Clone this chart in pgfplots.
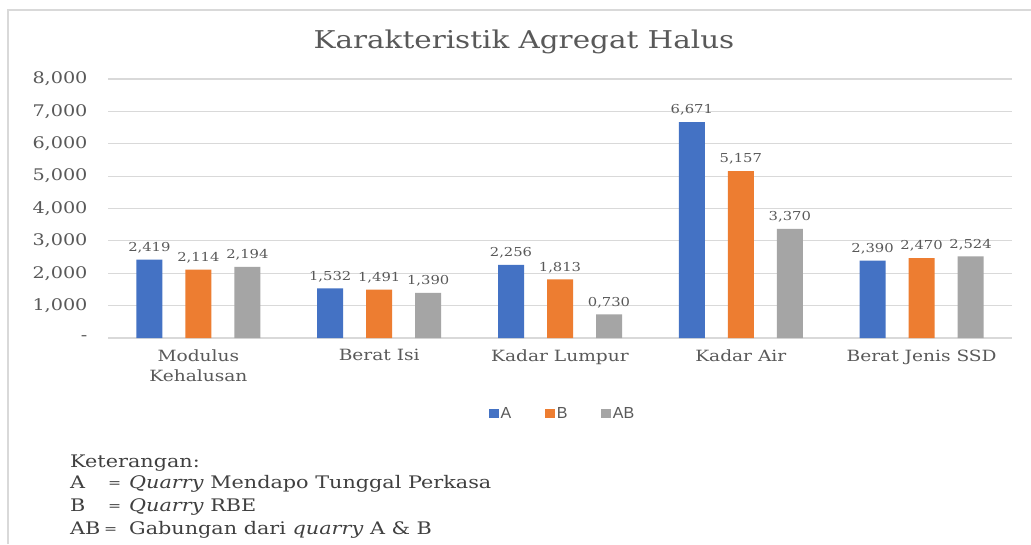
\documentclass[border=0pt]{standalone}
\usepackage{fontspec}
\setmainfont{DejaVu Serif}[FakeStretch=1.2]
\newfontfamily\legendfont{Liberation Sans}
\usepackage{pgfplots}
\pgfplotsset{compat=1.18}
\definecolor{cA}{HTML}{4472C4}
\definecolor{cB}{HTML}{ED7D31}
\definecolor{cAB}{HTML}{A5A5A5}
\definecolor{txt}{HTML}{595959}
\definecolor{annot}{HTML}{404040}
\definecolor{gridc}{HTML}{D9D9D9}
\pgfplotsset{sqlegend/.style={legend image code/.code={\fill[##1,draw=none] (0pt,-4.5pt) rectangle (9.5pt,4.5pt);}}}
\begin{document}
\begin{tikzpicture}[x=1pt,y=1pt]
\useasboundingbox (0,0) rectangle (1031,544);
\fill[white] (0,0) rectangle (1031,544);
\draw[gridc, line width=2pt] (8,0) -- (8,534) -- (1031,534);
\node[text=txt, font=\fontsize{24.5}{30}\selectfont] at (524,502) {Karakteristik Agregat Halus};
\begin{axis}[
  at={(198.4pt,206pt)}, anchor=origin,
  scale only axis, width=904pt, height=259pt,
  ymin=0, ymax=8, xmin=-0.5, xmax=4.5,
  ybar=23pt, bar width=26pt,
  xtick=data,
  xticklabels={{Modulus\\Kehalusan},{Berat Isi},{Kadar Lumpur},{Kadar Air},{Berat Jenis SSD}},
  ytick={0,1,2,3,4,5,6,7,8},
  yticklabels={{-},{1,000},{2,000},{3,000},{4,000},{5,000},{6,000},{7,000},{8,000}},
  major tick length=0pt,
  axis line style={draw=none},
  ymajorgrids, major grid style={gridc, line width=1.2pt},
  yticklabel style={font=\fontsize{16}{20}\selectfont, text=txt, anchor=east, xshift=-17pt},
  xticklabel style={font=\fontsize{15.5}{20}\selectfont, text=txt, align=center, anchor=north, yshift=-8pt},
  nodes near coords={\pgfmathprintnumber[fixed, fixed zerofill, precision=3, use comma, assume math mode=true]{\pgfplotspointmeta}},
  every node near coord/.append style={font=\fontsize{12.3}{15}\selectfont, text=txt, yshift=3pt},
  legend style={at={(0.503,-0.293)}, anchor=center, legend columns=3, draw=none, fill=none,
    font=\legendfont\fontsize{16}{18}\selectfont, text=txt,
    /tikz/every even column/.append style={column sep=32pt}},
]
\addplot[fill=cA, draw=none, sqlegend] coordinates {(0,2.419) (1,1.532) (2,2.256) (3,6.671) (4,2.390)};
\addplot[fill=cB, draw=none, sqlegend] coordinates {(0,2.114) (1,1.491) (2,1.813) (3,5.157) (4,2.470)};
\addplot[fill=cAB, draw=none, sqlegend] coordinates {(0,2.194) (1,1.390) (2,0.730) (3,3.370) (4,2.524)};
\legend{A,B,AB}
\end{axis}
\begin{scope}[every node/.style={anchor=base west, inner sep=0pt, font=\fontsize{17.3}{20}\selectfont, text=annot}]
\node at (70,77) {Keterangan:};
\node at (70,56) {A};
\node[font=\fontsize{13}{15}\selectfont] at (108,57) {=};
\node at (129,56) {\textit{Quarry} Mendapo Tunggal Perkasa};
\node at (70,33) {B};
\node[font=\fontsize{13}{15}\selectfont] at (108,34) {=};
\node at (129,33) {\textit{Quarry} RBE};
\node at (70,10) {AB};
\node[font=\fontsize{13}{15}\selectfont] at (104,11) {=};
\node at (129,10) {Gabungan dari \textit{quarry} A \& B};
\end{scope}
\end{tikzpicture}
\end{document}
